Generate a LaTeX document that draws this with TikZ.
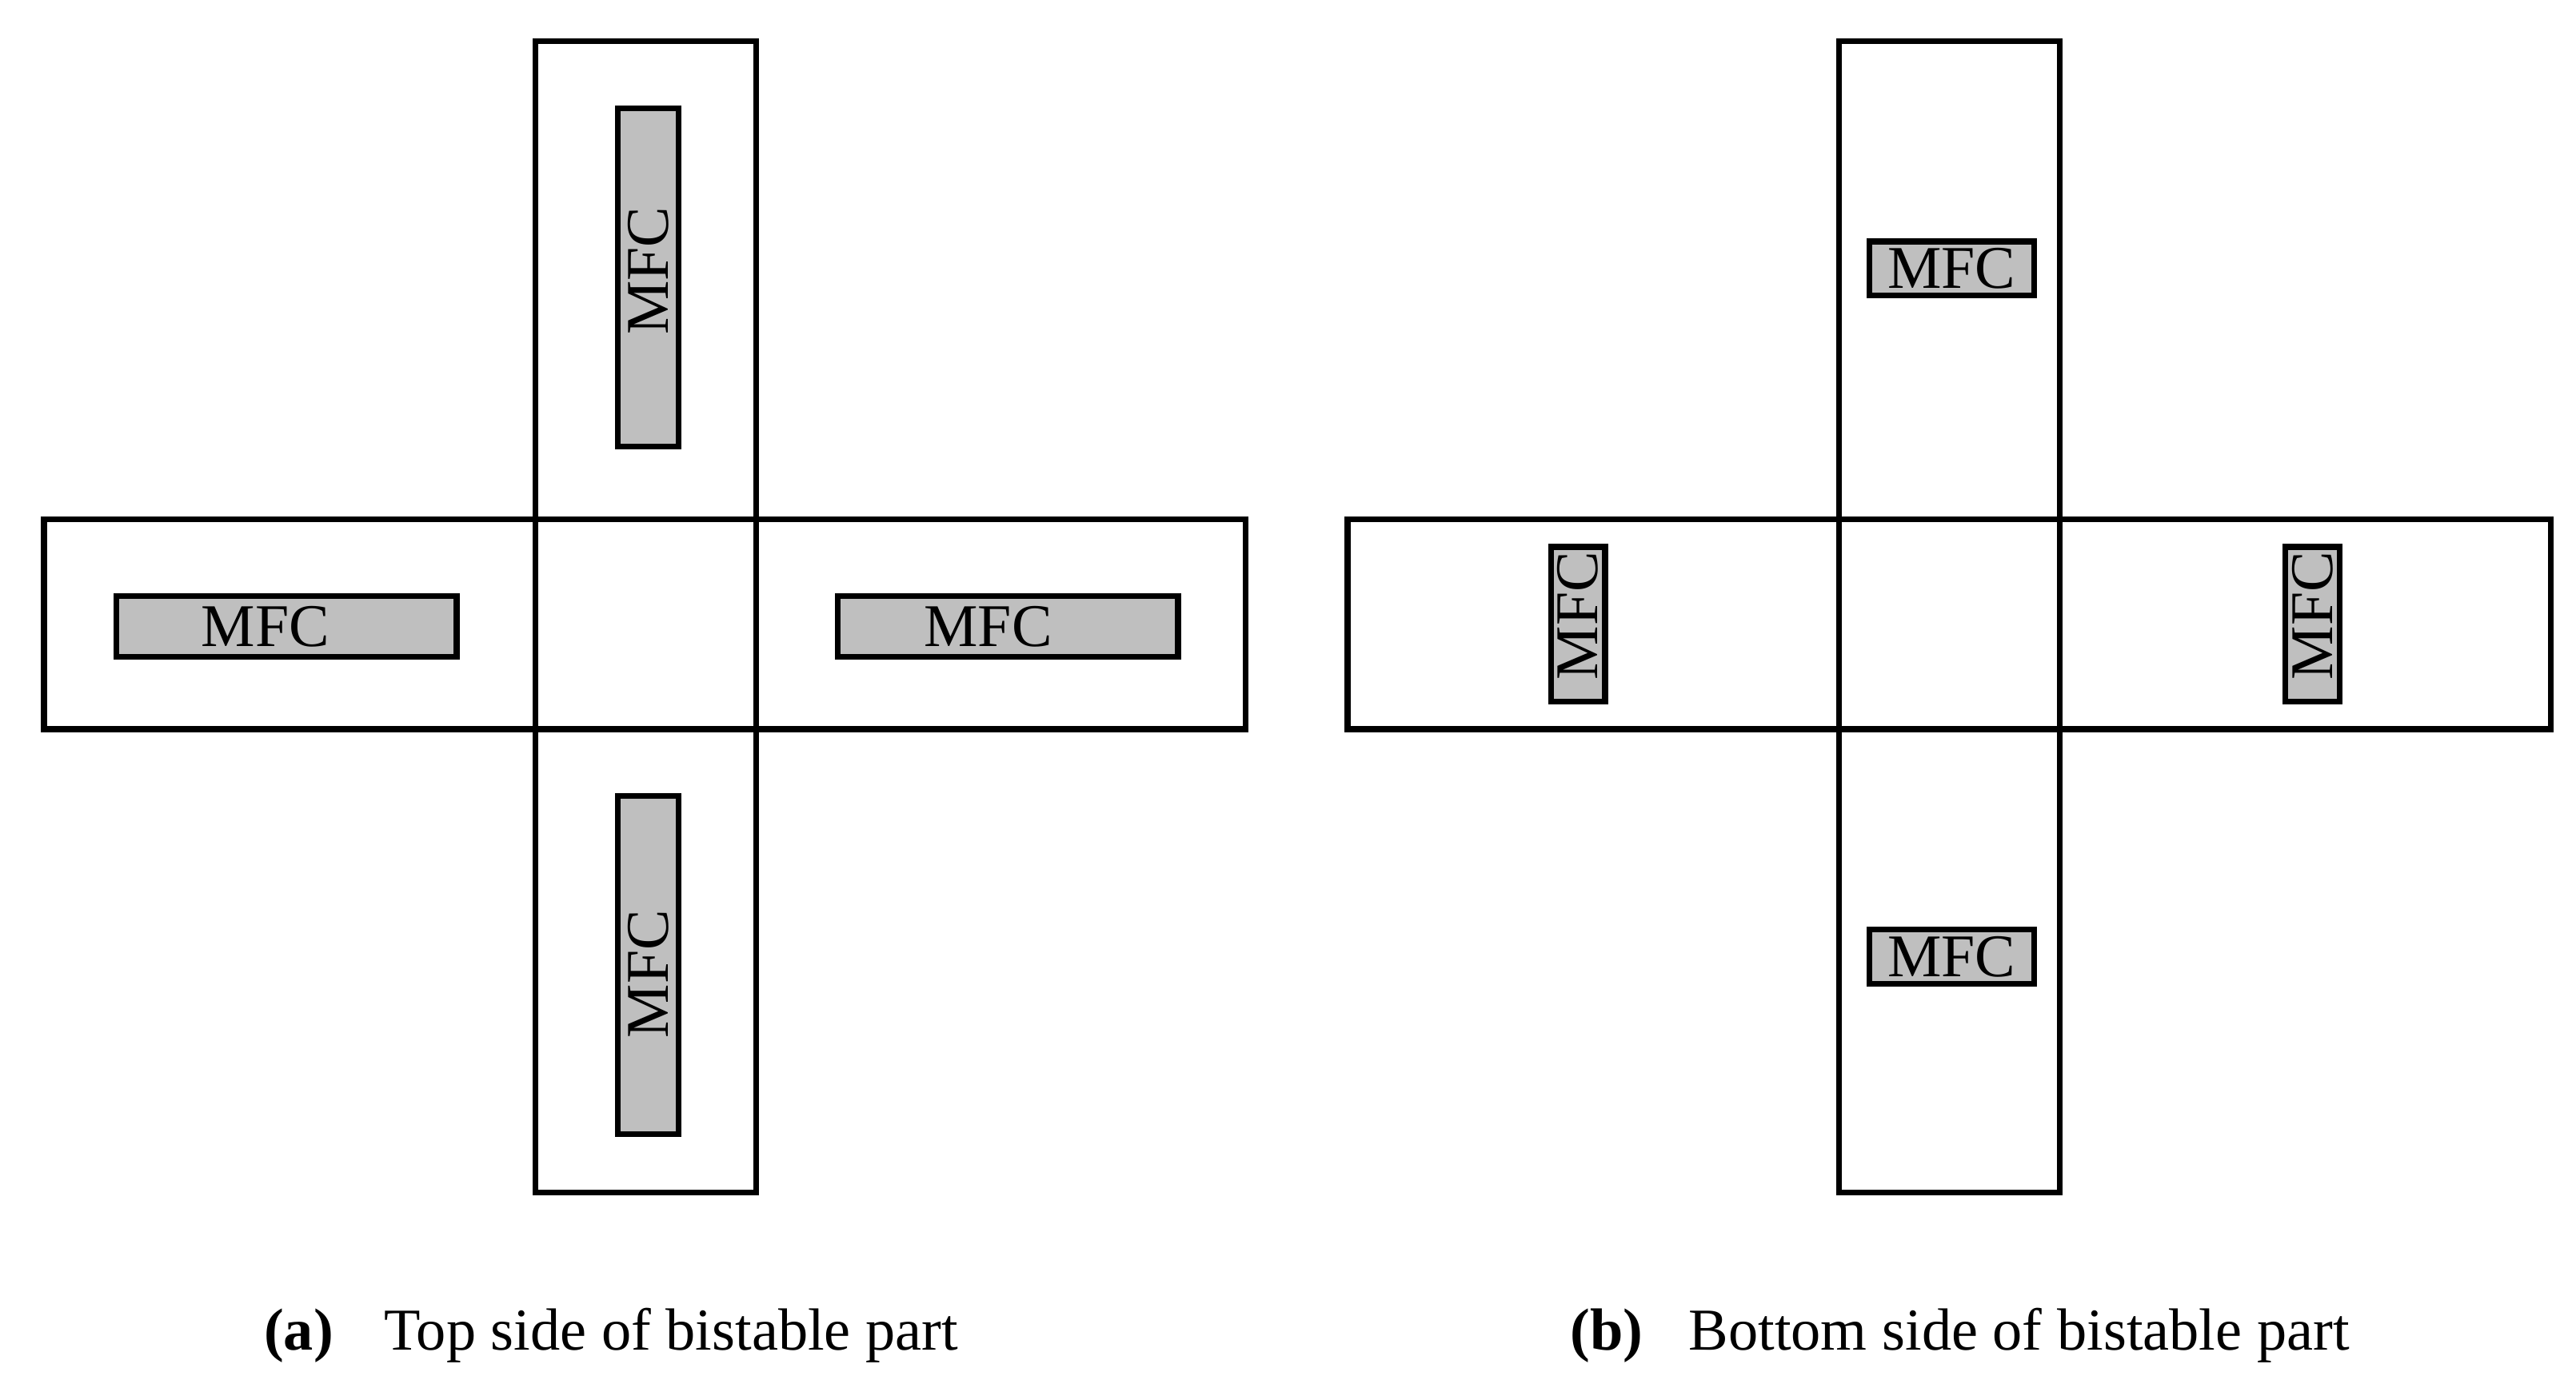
\documentclass[tikz,border=0pt]{standalone}
\usepackage{fontspec}
\setmainfont{Liberation Serif}
\usetikzlibrary{positioning}
\definecolor{padGray}{RGB}{191,191,191}

\begin{document}
\begin{tikzpicture}[
  part/.style={draw, line width=1pt, inner sep=0pt, outer sep=0pt,
     minimum width=13.45mm, minimum height=12.8mm},
  pad/.style={draw, line width=1pt, fill=padGray, inner sep=0pt,
     font=\fontsize{10.5}{12}\selectfont},
  sub/.style={anchor=base west, inner sep=0pt, font=\fontsize{10.3}{12}\selectfont}]
  \useasboundingbox (0,0) rectangle (15.68,8.40);
  % (a) top side
  \node[part] (hubA) at (3.93,4.60) {};
  \node[part, minimum height=29.1mm, above=0pt of hubA] (upA) {};
  \node[part, minimum height=28.2mm, below=0pt of hubA] (dnA) {};
  \node[part, minimum width=29.9mm, left=0pt of hubA]  (lfA) {};
  \node[part, minimum width=29.8mm, right=0pt of hubA] (rtA) {};
  \node[pad, minimum width=20.6mm, minimum height=3.7mm, rotate=90] (mUpA) at (3.945,6.71)  {\kern0.8mm MFC};
  \node[pad, minimum width=20.6mm, minimum height=3.7mm, rotate=90] (mDnA) at (3.945,2.525) {MFC\kern1.1mm};
  \node[pad, minimum width=20.7mm, minimum height=3.7mm] (mLfA) at (1.745,4.585) {MFC\kern2.6mm};
  \node[pad, minimum width=20.7mm, minimum height=3.7mm] (mRtA) at (6.135,4.585) {MFC\kern2.4mm};
  \node[sub] (capA) at (1.60,0.18) {\textbf{(a)}\hspace{3.1mm}Top side of bistable part};
  % (b) bottom side
  \node[part] (hubB) at (11.865,4.60) {};
  \node[part, minimum height=29.1mm, above=0pt of hubB] (upB) {};
  \node[part, minimum height=28.2mm, below=0pt of hubB] (dnB) {};
  \node[part, minimum width=29.9mm, left=0pt of hubB]  (lfB) {};
  \node[part, minimum width=29.9mm, right=0pt of hubB] (rtB) {};
  \node[pad, minimum width=10mm, minimum height=3.3mm] (mUpB) at (11.88,6.765) {MFC};
  \node[pad, minimum width=10mm, minimum height=3.3mm] (mDnB) at (11.88,2.575) {MFC};
  \node[pad, minimum width=9.4mm, minimum height=3.3mm, rotate=90] (mLfB) at (9.605,4.60)  {\kern1mm MFC};
  \node[pad, minimum width=9.4mm, minimum height=3.3mm, rotate=90] (mRtB) at (14.075,4.60) {\kern1mm MFC};
  \node[sub] (capB) at (9.55,0.18) {\textbf{(b)}\hspace{2.8mm}Bottom side of bistable part};
\end{tikzpicture}
\end{document}
